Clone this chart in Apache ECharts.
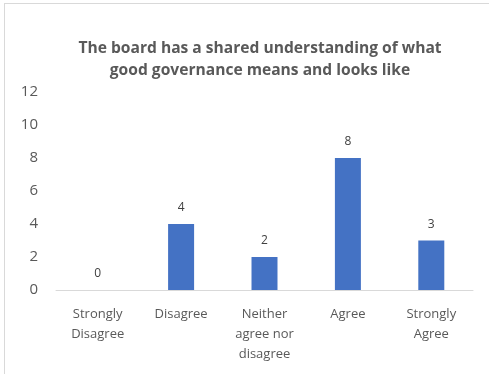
<!DOCTYPE html>
<html>
<head>
<meta charset="utf-8">
<script src="https://cdn.jsdelivr.net/npm/echarts@6/dist/echarts.min.js"></script>
<style>
  html, body { margin: 0; padding: 0; background: #fff; }
  #chart { width: 489px; height: 374px; }
</style>
</head>
<body>
<div id="chart"></div>
<script>
// Survey responses for one board-governance statement
const titleText = 'The board has a shared understanding of what\ngood governance means and looks like';
const categories = ['Strongly\nDisagree', 'Disagree', 'Neither\nagree nor\ndisagree', 'Agree', 'Strongly\nAgree'];
const counts = [0, 4, 2, 8, 3];
const yTicks = [0, 2, 4, 6, 8, 10, 12];

const textColor = '#595959';
const font = '"Open Sans", "Liberation Sans", sans-serif';

const chart = echarts.init(document.getElementById('chart'), null, { renderer: 'canvas' });
chart.setOption({
  animation: false,
  backgroundColor: '#fff',
  title: {
    text: titleText,
    left: 255,
    textAlign: 'center',
    top: 33,
    textStyle: {
      color: textColor,
      fontFamily: font,
      fontWeight: 'bold',
      fontSize: 15.6,
      lineHeight: 22
    }
  },
  grid: { left: 56, right: 16, top: 92, bottom: 84, containLabel: false },
  xAxis: {
    type: 'category',
    data: categories,
    axisTick: { show: false },
    axisLine: { lineStyle: { color: '#d9d9d9', width: 1 } },
    axisLabel: {
      color: textColor,
      fontFamily: font,
      fontSize: 13,
      lineHeight: 20,
      margin: 14,
      interval: 0
    }
  },
  yAxis: {
    type: 'value',
    min: yTicks[0],
    max: yTicks[yTicks.length - 1],
    interval: 2,
    splitLine: { show: false },
    axisLine: { show: false },
    axisTick: { show: false },
    axisLabel: {
      color: textColor,
      fontFamily: font,
      fontSize: 15,
      margin: 18
    }
  },
  series: [{
    type: 'bar',
    data: counts,
    barWidth: 26,
    itemStyle: { color: '#4472C4' },
    label: {
      show: true,
      position: 'top',
      distance: 10,
      color: '#404040',
      fontFamily: font,
      fontSize: 12
    }
  }],
  graphic: [
    { type: 'line', shape: { x1: 4, y1: 3.5, x2: 489, y2: 3.5 }, style: { stroke: '#d9d9d9', lineWidth: 1 } },
    { type: 'line', shape: { x1: 4.5, y1: 3, x2: 4.5, y2: 374 }, style: { stroke: '#d9d9d9', lineWidth: 1 } }
  ]
});
</script>
</body>
</html>
